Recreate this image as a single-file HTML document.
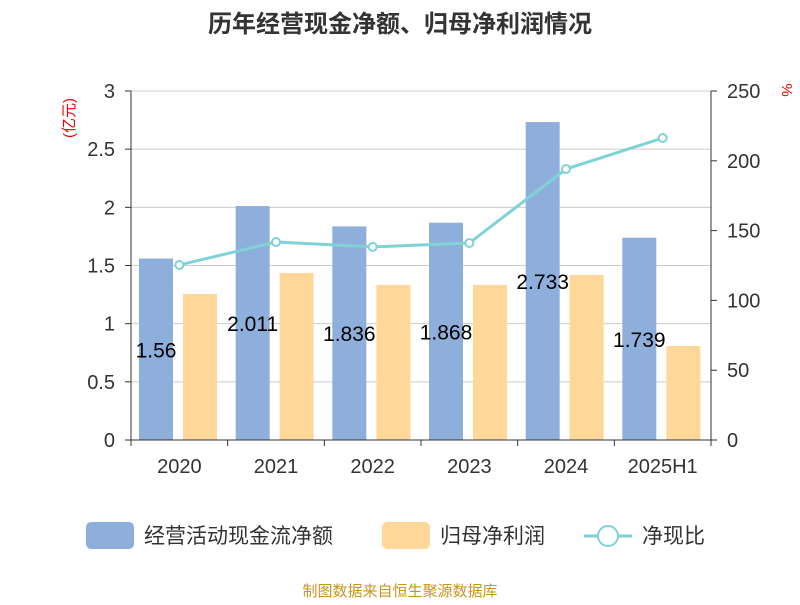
<!DOCTYPE html>
<html><head><meta charset="utf-8"><style>
body{margin:0;background:#fff;font-family:"Liberation Sans","Noto Sans CJK SC",sans-serif}
</style></head><body>
<svg id="c" width="800" height="600" xmlns="http://www.w3.org/2000/svg" font-family="Liberation Sans, Noto Sans CJK SC, sans-serif">
<text x="400" y="32" text-anchor="middle" font-size="24" font-weight="bold" fill="#333">历年经营现金净额、归母净利润情况</text>
<text transform="translate(74,118) rotate(-90)" text-anchor="middle" font-size="15" fill="#e00">(亿元)</text>
<text transform="translate(782,90) rotate(90)" text-anchor="middle" font-size="15" fill="#e00">%</text>
<g id="grid"></g><g id="bars"></g><g id="line"></g><g id="axes"></g>
<g>
<rect x="86" y="522" width="48" height="27" rx="5" fill="#8eaedb"/>
<text x="144" y="543" font-size="21" fill="#333">经营活动现金流净额</text>
<rect x="382" y="522" width="48" height="27" rx="5" fill="#ffd899"/>
<text x="440" y="543" font-size="21" fill="#333">归母净利润</text>
<line x1="584" y1="536" x2="632" y2="536" stroke="#7fd3d7" stroke-width="3"/>
<circle cx="608" cy="536" r="10" fill="#fff" stroke="#7fd3d7" stroke-width="2"/>
<text x="642" y="543" font-size="21" fill="#333">净现比</text>
</g>
<text x="400" y="596" text-anchor="middle" font-size="15" fill="#c8961e">制图数据来自恒生聚源数据库</text>
</svg>
<script>
const categories=["2020","2021","2022","2023","2024","2025H1"];
const cashFlow=[1.56,2.011,1.836,1.868,2.733,1.739];
const netProfit=[1.255,1.436,1.333,1.333,1.419,0.808];
const ratio=[125.4,141.8,138.3,141.1,194.1,216.3];
const leftTicks=["0","0.5","1","1.5","2","2.5","3"];
const rightTicks=["0","50","100","150","200","250"];
const NS="http://www.w3.org/2000/svg";
const L=131,R=711,T=91,B=440,bw=(R-L)/categories.length;
const yL=v=>B-v/3*(B-T), yR=v=>B-v/250*(B-T);
function mk(p,t,a){const e=document.createElementNS(NS,t);for(const k in a)e.setAttribute(k,a[k]);document.getElementById(p).appendChild(e);return e;}
leftTicks.forEach((t,i)=>{const v=+t,y=yL(v);
 const g=mk("grid","line",{x1:L,x2:R,y1:y,y2:y,stroke:"#ccc"});
 
 
 const tx=mk("axes","text",{x:L-16,y:y+7,"text-anchor":"end","font-size":20,fill:"#333"});tx.textContent=t;
 
 
 mk("axes","line",{x1:L-6,x2:L,y1:y,y2:y,stroke:"#333"});
});
rightTicks.forEach(t=>{const y=yR(+t);
 const tx=mk("axes","text",{x:R+16,y:y+7,"font-size":20,fill:"#333"});tx.textContent=t;
 
 
 mk("axes","line",{x1:R,x2:R+6,y1:y,y2:y,stroke:"#333"});
});
mk("axes","line",{x1:L,x2:L,y1:T,y2:B,stroke:"#333"});
mk("axes","line",{x1:R,x2:R,y1:T,y2:B,stroke:"#333"});
mk("axes","line",{x1:L,x2:R,y1:B,y2:B,stroke:"#333"});
categories.forEach((c,i)=>{const x0=L+i*bw;
 mk("axes","line",{x1:x0,x2:x0,y1:B,y2:B+6,stroke:"#333"});
 if(i==categories.length-1)mk("axes","line",{x1:R,x2:R,y1:B,y2:B+6,stroke:"#333"});
 const tx=mk("axes","text",{x:x0+bw/2,y:B+33,"text-anchor":"middle","font-size":20,fill:"#333"});tx.textContent=c;
 
 
 const b1=mk("bars","rect",{x:x0+8,y:yL(cashFlow[i]),width:34,height:B-yL(cashFlow[i]),fill:"#8eaedb"});
 
 
 const b2=mk("bars","rect",{x:x0+52,y:yL(netProfit[i]),width:34,height:B-yL(netProfit[i]),fill:"#ffd899"});
 
 
});
const pts=ratio.map((v,i)=>[L+i*bw+bw/2,yR(v)]);
const pl=mk("line","polyline",{points:pts.map(p=>p.join(",")).join(" "),fill:"none",stroke:"#7fd3d7","stroke-width":3});


pts.forEach((p,i)=>{const c=mk("line","circle",{cx:p[0],cy:p[1],r:4,fill:"#fff",stroke:"#7fd3d7","stroke-width":2});
 
 });
categories.forEach((c,i)=>{const x=L+i*bw+25,y=(yL(cashFlow[i])+B)/2+8;
 const tx=mk("line","text",{x:x,y:y,"text-anchor":"middle","font-size":21,fill:"#000"});tx.textContent=String(cashFlow[i]);
 
 });
</script>
</body></html>
